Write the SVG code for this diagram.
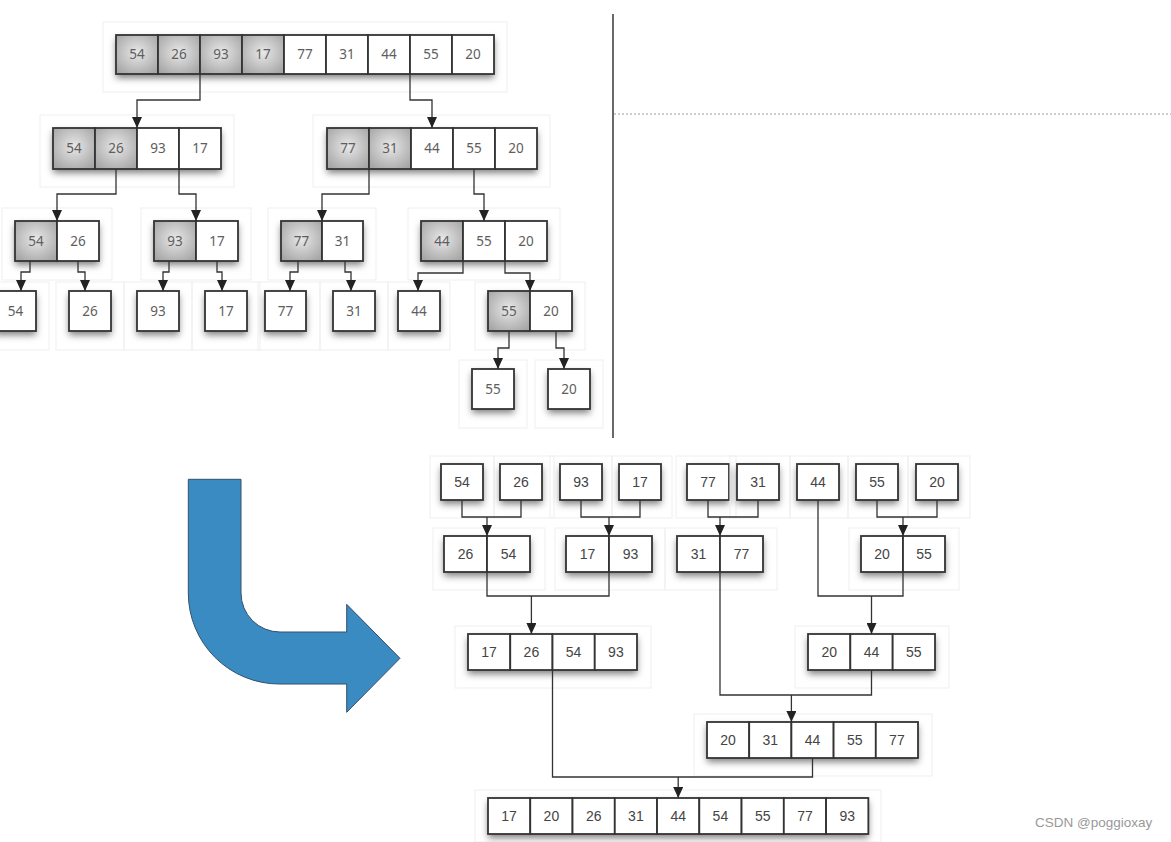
<svg xmlns="http://www.w3.org/2000/svg" width="1171" height="842" viewBox="0 0 1171 842">
<defs>
<style>
.fr{fill:none;stroke:#efefef;stroke-width:1}
.bx{fill:#fff;filter:url(#ds)}
.cw{fill:#fff;stroke:#333;stroke-width:1.8}
.cs{fill:url(#gs);stroke:#333;stroke-width:1.8}
.t{font-family:"Noto Sans","DejaVu Sans",sans-serif;font-size:13.5px;fill:#5e5e5e;text-anchor:middle}
.b{font-family:"Liberation Sans",Arial,sans-serif;font-size:14px;fill:#444;text-anchor:middle}
.c{fill:none;stroke:#333;stroke-width:1.3}
.ca{fill:none;stroke:#333;stroke-width:1.3;marker-end:url(#ah)}
</style>
<filter id="ds" x="-20%" y="-30%" width="140%" height="180%">
<feDropShadow dx="0" dy="4" stdDeviation="3.5" flood-color="#000" flood-opacity="0.5"/>
</filter>
<radialGradient id="gs" cx="50%" cy="45%" r="65%">
<stop offset="0" stop-color="#e8e8e8"/>
<stop offset="1" stop-color="#a6a6a6"/>
</radialGradient>
<marker id="ah" markerUnits="userSpaceOnUse" markerWidth="11" markerHeight="10" refX="10" refY="5" orient="auto" viewBox="0 0 10 10" preserveAspectRatio="none">
<path d="M0,0 L10,5 L0,10 z" fill="#222"/>
</marker>
</defs>
<rect x="0" y="0" width="1171" height="842" fill="#fff"/>

<!-- divider & dotted line -->
<line x1="613" y1="14" x2="613" y2="438" stroke="#444" stroke-width="1.6"/>
<line x1="614" y1="114" x2="1171" y2="114" stroke="#bdbdbd" stroke-width="1.5" stroke-dasharray="2,2"/>

<!-- ===== top split tree ===== -->
<g id="n1">
<rect class="fr" x="103" y="22" width="404" height="70"/>
<rect class="bx" x="116" y="35" width="378" height="39"/>
<rect class="cs" x="116" y="35" width="42" height="39"/><rect class="cs" x="158" y="35" width="42" height="39"/>
<rect class="cs" x="200" y="35" width="42" height="39"/><rect class="cs" x="242" y="35" width="42" height="39"/>
<rect class="cw" x="284" y="35" width="42" height="39"/><rect class="cw" x="326" y="35" width="42" height="39"/>
<rect class="cw" x="368" y="35" width="42" height="39"/><rect class="cw" x="410" y="35" width="42" height="39"/>
<rect class="cw" x="452" y="35" width="42" height="39"/>
<text class="t" x="137" y="59">54</text><text class="t" x="179" y="59">26</text><text class="t" x="221" y="59">93</text>
<text class="t" x="263" y="59">17</text><text class="t" x="305" y="59">77</text><text class="t" x="347" y="59">31</text>
<text class="t" x="389" y="59">44</text><text class="t" x="431" y="59">55</text><text class="t" x="473" y="59">20</text>
</g>

<g id="n2L">
<rect class="fr" x="40" y="115" width="194" height="72"/>
<rect class="bx" x="53" y="128" width="168" height="41"/>
<rect class="cs" x="53" y="128" width="42" height="41"/><rect class="cs" x="95" y="128" width="42" height="41"/>
<rect class="cw" x="137" y="128" width="42" height="41"/><rect class="cw" x="179" y="128" width="42" height="41"/>
<text class="t" x="74" y="153">54</text><text class="t" x="116" y="153">26</text>
<text class="t" x="158" y="153">93</text><text class="t" x="200" y="153">17</text>
</g>

<g id="n2R">
<rect class="fr" x="313" y="115" width="237" height="72"/>
<rect class="bx" x="327" y="128" width="210" height="41"/>
<rect class="cs" x="327" y="128" width="42" height="41"/><rect class="cs" x="369" y="128" width="42" height="41"/>
<rect class="cw" x="411" y="128" width="42" height="41"/><rect class="cw" x="453" y="128" width="42" height="41"/>
<rect class="cw" x="495" y="128" width="42" height="41"/>
<text class="t" x="348" y="153">77</text><text class="t" x="390" y="153">31</text>
<text class="t" x="432" y="153">44</text><text class="t" x="474" y="153">55</text><text class="t" x="516" y="153">20</text>
</g>

<g id="n3a">
<rect class="fr" x="2" y="208" width="110" height="72"/>
<rect class="bx" x="15" y="221" width="84" height="40"/>
<rect class="cs" x="15" y="221" width="42" height="40"/><rect class="cw" x="57" y="221" width="42" height="40"/>
<text class="t" x="36" y="246">54</text><text class="t" x="78" y="246">26</text>
</g>
<g id="n3b">
<rect class="fr" x="141" y="208" width="110" height="72"/>
<rect class="bx" x="154" y="221" width="84" height="40"/>
<rect class="cs" x="154" y="221" width="42" height="40"/><rect class="cw" x="196" y="221" width="42" height="40"/>
<text class="t" x="175" y="246">93</text><text class="t" x="217" y="246">17</text>
</g>
<g id="n3c">
<rect class="fr" x="268" y="208" width="108" height="72"/>
<rect class="bx" x="281" y="221" width="82" height="40"/>
<rect class="cs" x="281" y="221" width="41" height="40"/><rect class="cw" x="322" y="221" width="41" height="40"/>
<text class="t" x="301.5" y="246">77</text><text class="t" x="342.5" y="246">31</text>
</g>
<g id="n3d">
<rect class="fr" x="408" y="208" width="152" height="72"/>
<rect class="bx" x="421" y="221" width="126" height="40"/>
<rect class="cs" x="421" y="221" width="42" height="40"/><rect class="cw" x="463" y="221" width="42" height="40"/>
<rect class="cw" x="505" y="221" width="42" height="40"/>
<text class="t" x="442" y="246">44</text><text class="t" x="484" y="246">55</text><text class="t" x="526" y="246">20</text>
</g>

<g id="n4a"><rect class="fr" x="-18" y="282" width="67" height="68"/><rect class="bx" x="-5" y="291" width="41" height="40"/><rect class="cw" x="-5" y="291" width="41" height="40"/><text class="t" x="15.5" y="316">54</text></g>
<g id="n4b"><rect class="fr" x="56" y="282" width="68" height="68"/><rect class="bx" x="69" y="291" width="42" height="40"/><rect class="cw" x="69" y="291" width="42" height="40"/><text class="t" x="90" y="316">26</text></g>
<g id="n4c"><rect class="fr" x="124" y="282" width="68" height="68"/><rect class="bx" x="137" y="291" width="42" height="40"/><rect class="cw" x="137" y="291" width="42" height="40"/><text class="t" x="158" y="316">93</text></g>
<g id="n4d"><rect class="fr" x="192" y="282" width="68" height="68"/><rect class="bx" x="205" y="291" width="42" height="40"/><rect class="cw" x="205" y="291" width="42" height="40"/><text class="t" x="226" y="316">17</text></g>
<g id="n4e"><rect class="fr" x="258" y="282" width="62" height="68"/><rect class="bx" x="265" y="291" width="41" height="40"/><rect class="cw" x="265" y="291" width="41" height="40"/><text class="t" x="285.5" y="316">77</text></g>
<g id="n4f"><rect class="fr" x="320" y="282" width="68" height="68"/><rect class="bx" x="333" y="291" width="42" height="40"/><rect class="cw" x="333" y="291" width="42" height="40"/><text class="t" x="354" y="316">31</text></g>
<g id="n4g"><rect class="fr" x="388" y="282" width="62" height="68"/><rect class="bx" x="398" y="291" width="42" height="40"/><rect class="cw" x="398" y="291" width="42" height="40"/><text class="t" x="419" y="316">44</text></g>
<g id="n4h">
<rect class="fr" x="475" y="282" width="110" height="68"/>
<rect class="bx" x="488" y="291" width="84" height="40"/>
<rect class="cs" x="488" y="291" width="42" height="40"/><rect class="cw" x="530" y="291" width="42" height="40"/>
<text class="t" x="509" y="316">55</text><text class="t" x="551" y="316">20</text>
</g>
<g id="n5a"><rect class="fr" x="459" y="360" width="68" height="68"/><rect class="bx" x="472" y="369" width="42" height="40"/><rect class="cw" x="472" y="369" width="42" height="40"/><text class="t" x="493" y="394">55</text></g>
<g id="n5b"><rect class="fr" x="535" y="360" width="68" height="68"/><rect class="bx" x="548" y="369" width="42" height="40"/><rect class="cw" x="548" y="369" width="42" height="40"/><text class="t" x="569" y="394">20</text></g>

<!-- ===== bottom merge tree ===== -->
<g id="a1"><rect class="fr" x="430" y="456" width="64" height="62"/><rect class="bx" x="441" y="464" width="42" height="36"/><rect class="cw" x="441" y="464" width="42" height="36"/><text class="b" x="462" y="487">54</text></g>
<g id="a2"><rect class="fr" x="494" y="456" width="60" height="62"/><rect class="bx" x="500" y="464" width="42" height="36"/><rect class="cw" x="500" y="464" width="42" height="36"/><text class="b" x="521" y="487">26</text></g>
<g id="a3"><rect class="fr" x="550" y="456" width="62" height="62"/><rect class="bx" x="560" y="464" width="42" height="36"/><rect class="cw" x="560" y="464" width="42" height="36"/><text class="b" x="581" y="487">93</text></g>
<g id="a4"><rect class="fr" x="612" y="456" width="60" height="62"/><rect class="bx" x="619" y="464" width="42" height="36"/><rect class="cw" x="619" y="464" width="42" height="36"/><text class="b" x="640" y="487">17</text></g>
<g id="a5"><rect class="fr" x="676" y="456" width="60" height="62"/><rect class="bx" x="687" y="464" width="42" height="36"/><rect class="cw" x="687" y="464" width="42" height="36"/><text class="b" x="708" y="487">77</text></g>
<g id="a6"><rect class="fr" x="730" y="456" width="60" height="62"/><rect class="bx" x="737" y="464" width="42" height="36"/><rect class="cw" x="737" y="464" width="42" height="36"/><text class="b" x="758" y="487">31</text></g>
<g id="a7"><rect class="fr" x="790" y="456" width="58" height="62"/><rect class="bx" x="797" y="464" width="42" height="36"/><rect class="cw" x="797" y="464" width="42" height="36"/><text class="b" x="818" y="487">44</text></g>
<g id="a8"><rect class="fr" x="848" y="456" width="60" height="62"/><rect class="bx" x="856" y="464" width="42" height="36"/><rect class="cw" x="856" y="464" width="42" height="36"/><text class="b" x="877" y="487">55</text></g>
<g id="a9"><rect class="fr" x="908" y="456" width="62" height="62"/><rect class="bx" x="916" y="464" width="42" height="36"/><rect class="cw" x="916" y="464" width="42" height="36"/><text class="b" x="937" y="487">20</text></g>

<g id="b1"><rect class="fr" x="433" y="528" width="112" height="62"/><rect class="bx" x="444" y="536" width="86" height="36"/>
<rect class="cw" x="444" y="536" width="43" height="36"/><rect class="cw" x="487" y="536" width="43" height="36"/>
<text class="b" x="465.5" y="559">26</text><text class="b" x="508.5" y="559">54</text></g>
<g id="b2"><rect class="fr" x="555" y="528" width="110" height="62"/><rect class="bx" x="566" y="536" width="86" height="36"/>
<rect class="cw" x="566" y="536" width="43" height="36"/><rect class="cw" x="609" y="536" width="43" height="36"/>
<text class="b" x="587.5" y="559">17</text><text class="b" x="630.5" y="559">93</text></g>
<g id="b3"><rect class="fr" x="665" y="528" width="112" height="62"/><rect class="bx" x="677" y="536" width="86" height="36"/>
<rect class="cw" x="677" y="536" width="43" height="36"/><rect class="cw" x="720" y="536" width="43" height="36"/>
<text class="b" x="698.5" y="559">31</text><text class="b" x="741.5" y="559">77</text></g>
<g id="b4"><rect class="fr" x="849" y="528" width="110" height="62"/><rect class="bx" x="861" y="536" width="84" height="36"/>
<rect class="cw" x="861" y="536" width="42" height="36"/><rect class="cw" x="903" y="536" width="42" height="36"/>
<text class="b" x="882" y="559">20</text><text class="b" x="924" y="559">55</text></g>

<g id="c1"><rect class="fr" x="455" y="626" width="196" height="62"/><rect class="bx" x="468" y="634" width="169" height="36"/>
<rect class="cw" x="468" y="634" width="42.25" height="36"/><rect class="cw" x="510.25" y="634" width="42.25" height="36"/>
<rect class="cw" x="552.5" y="634" width="42.25" height="36"/><rect class="cw" x="594.75" y="634" width="42.25" height="36"/>
<text class="b" x="489.1" y="657">17</text><text class="b" x="531.4" y="657">26</text>
<text class="b" x="573.6" y="657">54</text><text class="b" x="615.9" y="657">93</text></g>
<g id="c2"><rect class="fr" x="795" y="626" width="154" height="62"/><rect class="bx" x="808" y="634" width="127" height="36"/>
<rect class="cw" x="808" y="634" width="42.33" height="36"/><rect class="cw" x="850.33" y="634" width="42.33" height="36"/>
<rect class="cw" x="892.67" y="634" width="42.33" height="36"/>
<text class="b" x="829.2" y="657">20</text><text class="b" x="871.5" y="657">44</text><text class="b" x="913.8" y="657">55</text></g>

<g id="d1"><rect class="fr" x="694" y="714" width="238" height="62"/><rect class="bx" x="707" y="722" width="211" height="36"/>
<rect class="cw" x="707" y="722" width="42.2" height="36"/><rect class="cw" x="749.2" y="722" width="42.2" height="36"/>
<rect class="cw" x="791.4" y="722" width="42.2" height="36"/><rect class="cw" x="833.6" y="722" width="42.2" height="36"/>
<rect class="cw" x="875.8" y="722" width="42.2" height="36"/>
<text class="b" x="728.1" y="745">20</text><text class="b" x="770.3" y="745">31</text><text class="b" x="812.5" y="745">44</text>
<text class="b" x="854.7" y="745">55</text><text class="b" x="896.9" y="745">77</text></g>

<g id="e1"><rect class="fr" x="475" y="790" width="406" height="52"/><rect class="bx" x="488" y="798" width="380.3" height="36"/>
<rect class="cw" x="488" y="798" width="42.26" height="36"/><rect class="cw" x="530.26" y="798" width="42.26" height="36"/>
<rect class="cw" x="572.52" y="798" width="42.26" height="36"/><rect class="cw" x="614.78" y="798" width="42.26" height="36"/>
<rect class="cw" x="657.04" y="798" width="42.26" height="36"/><rect class="cw" x="699.3" y="798" width="42.26" height="36"/>
<rect class="cw" x="741.56" y="798" width="42.26" height="36"/><rect class="cw" x="783.82" y="798" width="42.26" height="36"/>
<rect class="cw" x="826.08" y="798" width="42.26" height="36"/>
<text class="b" x="509.1" y="821">17</text><text class="b" x="551.4" y="821">20</text><text class="b" x="593.7" y="821">26</text>
<text class="b" x="635.9" y="821">31</text><text class="b" x="678.2" y="821">44</text><text class="b" x="720.4" y="821">54</text>
<text class="b" x="762.7" y="821">55</text><text class="b" x="805" y="821">77</text><text class="b" x="847.2" y="821">93</text></g>

<!-- ===== connectors ===== -->
<g id="connectors">
<path class="ca" d="M200,74 V100 H137 V128"/>
<path class="ca" d="M410,74 V100 H432 V128"/>
<path class="ca" d="M116,169 V194 H57 V221"/>
<path class="ca" d="M179,169 V194 H196 V221"/>
<path class="ca" d="M369,169 V194 H322 V221"/>
<path class="ca" d="M474,169 V194 H484 V221"/>
<path class="ca" d="M30,261 V272 H21 V291"/>
<path class="ca" d="M78,261 V272 H85 V291"/>
<path class="ca" d="M169,261 V272 H163 V291"/>
<path class="ca" d="M217,261 V272 H222 V291"/>
<path class="ca" d="M298,261 V272 H290 V291"/>
<path class="ca" d="M345,261 V272 H351 V291"/>
<path class="ca" d="M463,261 V273 H418 V291"/>
<path class="ca" d="M505,261 V273 H530 V291"/>
<path class="ca" d="M509,331 V348 H498 V369"/>
<path class="ca" d="M556,331 V348 H564 V369"/>

<path class="c" d="M462,500 V517 H521 V500"/>
<path class="ca" d="M487,517 V536"/>
<path class="c" d="M581,500 V517 H640 V500"/>
<path class="ca" d="M609,517 V536"/>
<path class="c" d="M708,500 V517 H758 V500"/>
<path class="ca" d="M720,517 V536"/>
<path class="c" d="M877,500 V517 H937 V500"/>
<path class="ca" d="M903,517 V536"/>
<path class="c" d="M818,500 V596 H903 V572"/>
<path class="ca" d="M871.5,596 V634"/>
<path class="c" d="M487,572 V596 H609 V572"/>
<path class="ca" d="M531.4,596 V634"/>
<path class="c" d="M720,572 V695 H871.5 V670"/>
<path class="ca" d="M791.4,695 V722"/>
<path class="c" d="M552.5,670 V777 H812.5 V758"/>
<path class="ca" d="M678.2,777 V798"/>
</g>

<!-- blue arrow -->
<path id="bigarrow" d="M188.3,479.3 L241,479.3 L241,593 A39,39 0 0 0 280,632 L346.7,632 L346.7,604.3 L400,658.3 L346.7,712.3 L346.7,684 L279.3,684 A91,91 0 0 1 188.3,593 Z" fill="#3a8bc1" stroke="#34506c" stroke-width="1"/>

<text x="1035" y="827" font-family="Liberation Sans, Arial, sans-serif" font-size="13.5" fill="#999">CSDN @poggioxay</text>
</svg>
